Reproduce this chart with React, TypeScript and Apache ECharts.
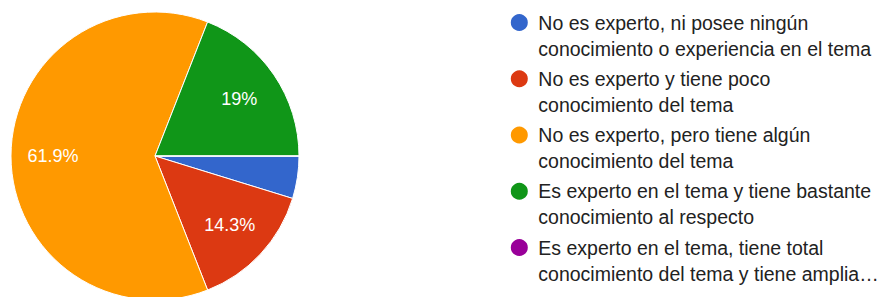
import React, { useEffect, useRef } from "react";
import * as echarts from "echarts";

const categories = [
  "No es experto, ni posee ningún\nconocimiento o experiencia en el tema",
  "No es experto y tiene poco\nconocimiento del tema",
  "No es experto, pero tiene algún\nconocimiento del tema",
  "Es experto en el tema y tiene bastante\nconocimiento al respecto",
  "Es experto en el tema, tiene total\nconocimiento del tema y tiene amplia…",
];
const values = [1, 3, 13, 4, 0];
const colors = ["#3366cc", "#dc3912", "#ff9900", "#109618", "#990099"];

const FONT = "'Liberation Sans', Arial, sans-serif";

export default function App() {
  const ref = useRef<HTMLDivElement>(null);
  useEffect(() => {
    if (!ref.current) return;
    const chart = echarts.init(ref.current, undefined, { renderer: "svg" });
    const data = categories.map((name, i) => ({
      name,
      value: values[i],
      itemStyle: { color: colors[i] },
    }));
    chart.setOption({
      animation: false,
      backgroundColor: "#ffffff",
      textStyle: { fontFamily: FONT },
      legend: {
        orient: "vertical",
        left: 508.8,
        top: -16.5,
        padding: 0,
        itemGap: -21.75,
        itemWidth: 28,
        itemHeight: 19,
        icon: "circle",
        selectedMode: false,
        data: categories,
        formatter: (name: string) => "\n" + name,
        textStyle: {
          fontFamily: FONT,
          fontSize: 19.5,
          color: "#222222",
          lineHeight: 26,
        },
      },
      series: [
        {
          type: "pie",
          center: [155, 156],
          radius: 144,
          startAngle: 0,
          clockwise: true,
          silent: true,
          label: { show: false },
          labelLine: { show: false },
          itemStyle: { borderColor: "#ffffff", borderWidth: 1 },
          emphasis: { disabled: true },
          data,
        },
        {
          type: "pie",
          center: [155, 156],
          radius: [54, 144],
          startAngle: 0,
          clockwise: true,
          silent: true,
          percentPrecision: 1,
          avoidLabelOverlap: false,
          itemStyle: { color: "transparent", borderWidth: 0 },
          label: {
            show: true,
            position: "inside",
            fontFamily: FONT,
            fontSize: 18,
            color: "#ffffff",
            formatter: (p: any) => (p.percent >= 5 ? `${p.percent}%` : ""),
          },
          labelLine: { show: false },
          emphasis: { disabled: true },
          legendHoverLink: false,
          data: categories.map((name, i) => ({ name, value: values[i] })),
        },
      ],
    });
    return () => chart.dispose();
  }, []);
  return (
    <div
      ref={ref}
      style={{ position: "fixed", left: 0, top: 0, width: 880, height: 297 }}
    />
  );
}
